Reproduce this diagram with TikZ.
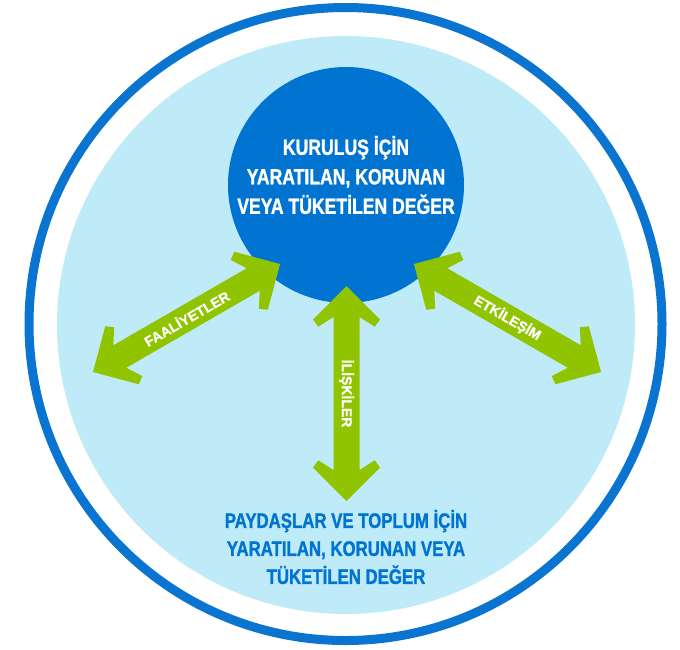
\documentclass[tikz,border=0pt]{standalone}
\usepackage{fontspec}
\usetikzlibrary{calc}
\setmainfont{Liberation Sans}
\newfontfamily\condbf[FakeStretch=0.8,FakeBold=1.2]{Liberation Sans Bold}
\newfontfamily\lblbf[FakeBold=0.8]{Liberation Sans Bold}
\definecolor{ringblue}{HTML}{0A74D1}
\definecolor{darkblue}{HTML}{0074D0}
\definecolor{lightblue}{HTML}{BFEAF8}
\definecolor{arrowgreen}{HTML}{91C400}
\tikzset{
  maintext/.style={align=center, font=\condbf\fontsize{22}{29.5}\selectfont, inner sep=0pt},
  arrowlabel/.style={text=white, font=\lblbf\fontsize{14}{16}\selectfont, inner sep=0pt},
}
% #1 start coordinate, #2 visual angle, #3 length
\newcommand{\dblarrow}[3]{%
  \begin{scope}[shift={(#1)}, rotate=#2]
    \fill[arrowgreen] (0,0) -- (33.5,33.5) -- (40.7,28.2) -- (31,13) -- (#3-31,13) -- (#3-40.7,28.2) -- (#3-33.5,33.5) -- (#3,0)
      -- (#3-33.5,-33.5) -- (#3-40.7,-28.2) -- (#3-31,-13) -- (31,-13) -- (40.7,-28.2) -- (33.5,-33.5) -- cycle;
  \end{scope}}
\begin{document}
\begin{tikzpicture}[x=1pt,y=-1pt]
  \useasboundingbox (0,0) rectangle (680,649);
  % circles
  \draw[ringblue, line width=9pt, fill=white] (345.5,324) circle (316.5);
  \fill[lightblue] (346,325) circle (289);
  \fill[darkblue] (346,185) circle (118);
  % arrow end points
  \coordinate (faA) at (93,372);
  \coordinate (faB) at (280,264);
  \coordinate (etA) at (414,264);
  \coordinate (etB) at (601,372);
  \coordinate (ilA) at (346.5,286);
  \coordinate (ilB) at (346.5,501);
  \dblarrow{faA}{30}{216}
  \dblarrow{etA}{-30}{216}
  \dblarrow{ilA}{-90}{215}
  % labels
  \node[arrowlabel, rotate=30] (fal) at ($(faA)!0.5!(faB)$) {FAALİYETLER};
  \node[arrowlabel, rotate=-30] (etl) at ($(etA)!0.5!(etB)$) {ETKİLEŞİM};
  \node[arrowlabel, rotate=-90] (ill) at ($(ilA)!0.5!(ilB)$) {İLİŞKİLER};
  % texts
  \node[maintext, text=white] (top) at (346,175) {KURULUŞ İÇİN\\YARATILAN, KORUNAN\\VEYA TÜKETİLEN DEĞER};
  \node[maintext, text=darkblue, font=\condbf\fontsize{21}{28}\selectfont] (bot) at (346,547) {PAYDAŞLAR VE TOPLUM İÇİN\\YARATILAN, KORUNAN VEYA\\TÜKETİLEN DEĞER};
\end{tikzpicture}
\end{document}
